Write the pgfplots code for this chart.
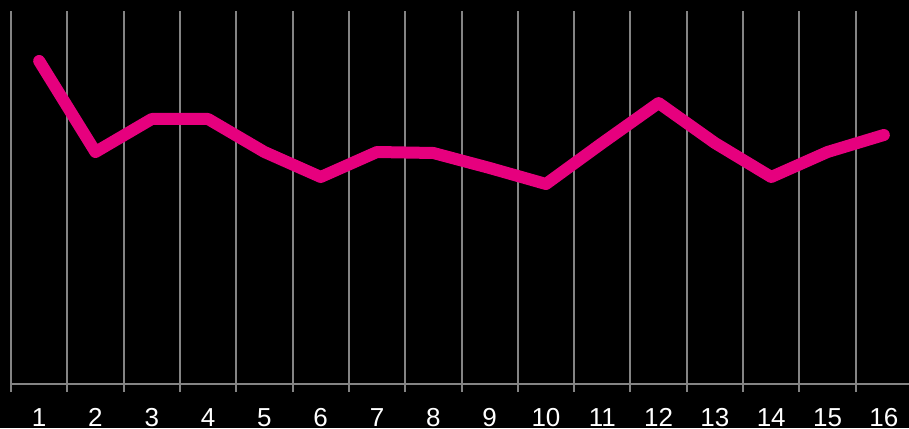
\documentclass[border=0pt]{standalone}
\usepackage{pgfplots}
\pgfplotsset{compat=1.18}
\usepackage{fontspec}
\setmainfont{Liberation Sans}
\definecolor{pinkline}{RGB}{230,0,126}
\definecolor{gridgray}{RGB}{132,132,132}
\begin{document}
\begin{tikzpicture}[x=1pt,y=1pt]
\fill[black] (-11,-44) rectangle (898,384);
\begin{axis}[
  at={(0,0)}, anchor=south west,
  scale only axis, width=901pt, height=373pt,
  xmin=0.5, xmax=16.5, ymin=0, ymax=373,
  axis line style={draw=none},
  axis x line*=bottom,
  axis y line=none,
  xtick={1,...,16},
  xticklabels={1,2,3,4,5,6,7,8,9,10,11,12,13,14,15,16},
  major tick length=0pt,
  xticklabel style={font=\fontsize{26}{26}\selectfont, text=white, inner sep=0pt, yshift=-24pt},
  /pgf/number format/assume math mode=true,
  extra x ticks={0.5,1.5,...,16.5},
  extra x tick labels={},
  extra x tick style={grid=major, major grid style={gridgray, line width=2pt},
    major tick length=8pt, tick style={gridgray, line width=2pt}, tick align=outside},
  clip=false,
]
\draw[gridgray, line width=2pt] (axis cs:0.5,0) -- (axis cs:16.5,0);
\addplot[pinkline, line width=12pt, line join=round, line cap=round] coordinates {
(1,323) (2,232) (3,265) (4,265) (5,232) (6,207) (7,232) (8,231)
(9,216) (10,200) (11,241) (12,281) (13,241) (14,207) (15,232) (16,249)
};
\end{axis}
\pgfresetboundingbox
\path[use as bounding box] (-11,-44) rectangle (898,384);
\end{tikzpicture}
\end{document}
